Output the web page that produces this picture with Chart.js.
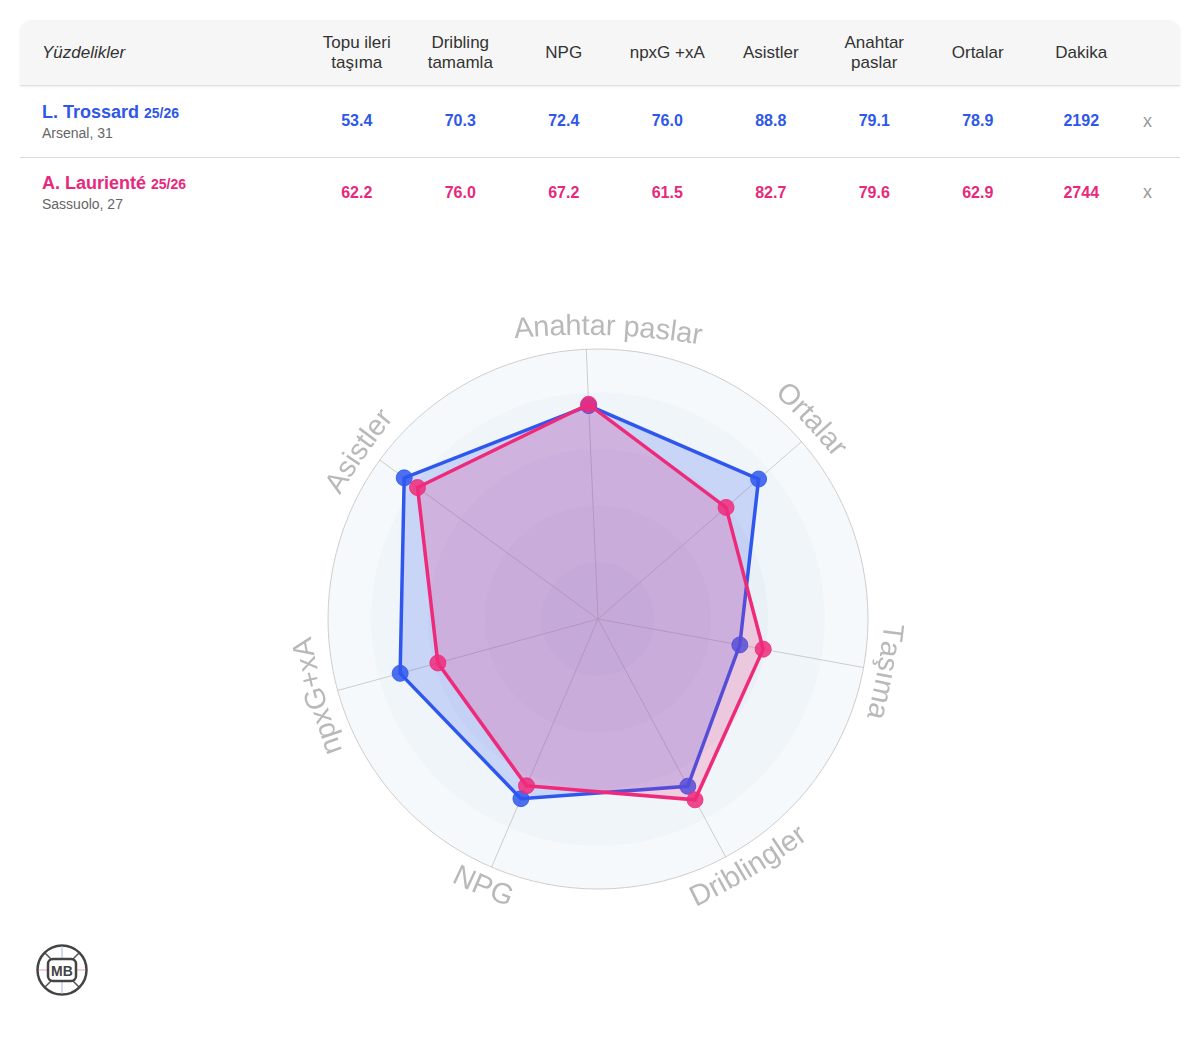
<!DOCTYPE html>
<html>
<head>
<meta charset="utf-8">
<script src="https://cdn.jsdelivr.net/npm/chart.js@4/dist/chart.umd.min.js"></script>
<style>
  body { margin: 0; background: #fff; font-family: "Liberation Sans", Arial, sans-serif; }
  #wrap { position: relative; width: 1200px; height: 1050px; }
  #hdrbg { position: absolute; left: 20px; top: 20px; width: 1160px; height: 65px; background: #f6f6f6; border-radius: 12px 12px 0 0; border-bottom: 1px solid #e0e0e0; box-shadow: 0 1px 3px rgba(0,0,0,0.07); }
  table { position: absolute; left: 20px; top: 20px; width: 1160px; border-collapse: collapse; table-layout: fixed; }
  thead th { height: 66px; font-weight: normal; font-size: 17px; color: #333; line-height: 20px; padding: 0; }
  thead th:first-child { text-align: left; padding-left: 22px; font-style: italic; }
  tbody td { text-align: center; font-weight: bold; font-size: 16px; padding: 0; }
  tbody tr { height: 71px; }
  tbody tr:first-child td { border-bottom: 1px solid #dcdcdc; }
  td.name { text-align: left; padding-left: 22px; font-weight: normal; }
  td.name b { font-size: 18px; }
  td.name b small { font-size: 14px; }
  td.name div { font-size: 14px; color: #666; margin-top: 2px; }
  td.x { font-weight: normal; color: #999; font-size: 18px; text-align: left; padding-left: 10px; }
  #chartBox { position: absolute; left: 248px; top: 269px; width: 700px; height: 700px; }
  #logo { position: absolute; left: 35px; top: 943px; }
</style>
</head>
<body>
<div id="wrap">
  <div id="hdrbg"></div>
  <table id="tbl">
    <colgroup>
      <col style="width:285px">
      <col span="8" style="width:103.5px">
      <col style="width:47px">
    </colgroup>
    <thead><tr id="head"></tr></thead>
    <tbody id="body"></tbody>
  </table>
  <div id="chartBox"><canvas id="radar" width="700" height="700"></canvas></div>
  <svg id="logo" width="54" height="54" viewBox="0 0 54 54">
    <circle cx="27" cy="27" r="24.5" fill="#fff" stroke="#444" stroke-width="2.5"/>
    <line x1="4" y1="27" x2="14" y2="27" stroke="#e9a0b8" stroke-width="1"/>
    <line x1="40" y1="27" x2="50" y2="27" stroke="#e9a0b8" stroke-width="1"/>
    <line x1="27" y1="3" x2="27" y2="16" stroke="#9fb4e6" stroke-width="1"/>
    <line x1="27" y1="38" x2="27" y2="51" stroke="#9fb4e6" stroke-width="1"/>
    <path d="M10 10 L16 16 M44 10 L38 16 M10 44 L16 38 M44 44 L38 38" stroke="#555" stroke-width="1.5"/>
    <rect x="13" y="16" width="28" height="22" rx="5" fill="#fff" stroke="#444" stroke-width="2.5"/>
    <text x="27" y="33" text-anchor="middle" font-family="Liberation Sans, Arial" font-weight="bold" font-size="14" fill="#444">MB</text>
  </svg>
</div>
<script>
// radar axes, clockwise from top
const labels = ['Anahtar paslar', 'Ortalar', 'Taşıma', 'Driblingler', 'NPG', 'npxG+xA', 'Asistler'];
const trossard = [79.1, 78.9, 53.4, 70.3, 72.4, 76.0, 88.8];
const lauriente = [79.6, 62.9, 62.2, 76.0, 67.2, 61.5, 82.7];

// table
const tableHeaders = ['Topu ileri<br>taşıma', 'Dribling<br>tamamla', 'NPG', 'npxG +xA', 'Asistler', 'Anahtar<br>paslar', 'Ortalar', 'Dakika'];
const trossardTable = ['53.4', '70.3', '72.4', '76.0', '88.8', '79.1', '78.9', '2192'];
const laurienteTable = ['62.2', '76.0', '67.2', '61.5', '82.7', '79.6', '62.9', '2744'];
const players = [
  { name: 'L. Trossard', season: '25/26', sub: 'Arsenal, 31', color: '#2f57e8', row: trossardTable },
  { name: 'A. Laurienté', season: '25/26', sub: 'Sassuolo, 27', color: '#e8287b', row: laurienteTable },
];

const blue = '#2f57ee';
const pink = '#ee2a7b';
// small angular nudges (degrees) for the curved axis names
const labelShift = [4.5, -2, 0, -3, 0, 0, -1];

const head = document.getElementById('head');
head.innerHTML = '<th>Yüzdelikler</th>' + tableHeaders.map(h => `<th>${h}</th>`).join('') + '<th></th>';
document.getElementById('body').innerHTML = players.map(p =>
  `<tr><td class="name"><b style="color:${p.color}">${p.name} <small>${p.season}</small></b><div>${p.sub}</div></td>` +
  p.row.map(v => `<td style="color:${p.color}">${v}</td>`).join('') +
  '<td class="x">x</td></tr>'
).join('');

// light concentric bands behind the grid
const bands = {
  id: 'bands',
  beforeDraw(chart) {
    const s = chart.scales.r, c = chart.ctx;
    const steps = [[1, '#f6f9fc'], [0.84, '#eff5f9'], [0.63, '#eaf1f6'], [0.42, '#e5edf3'], [0.21, '#dfe8ef']];
    c.save();
    steps.forEach(([f, col]) => {
      c.beginPath();
      c.arc(s.xCenter, s.yCenter, s.drawingArea * f, 0, Math.PI * 2);
      c.fillStyle = col;
      c.fill();
    });
    c.restore();
  }
};

// axis names, gently bent around the outer circle
const arcLabels = {
  id: 'arcLabels',
  afterDraw(chart) {
    const s = chart.scales.r, c = chart.ctx;
    const R = s.drawingArea + 22;
    const Rc = R * 2.4; // flatter bend than the ring itself
    c.save();
    c.font = '29px "Liberation Sans", Arial, sans-serif';
    c.fillStyle = '#b9b9b9';
    c.textAlign = 'center';
    c.textBaseline = 'middle';
    chart.data.labels.forEach((txt, i) => {
      const th = s.getIndexAngle(i) + labelShift[i] * Math.PI / 180;
      const flip = Math.cos(th) < -0.5;
      const cx = s.xCenter + (R - Rc) * Math.sin(th);
      const cy = s.yCenter - (R - Rc) * Math.cos(th);
      const chars = [...txt];
      const widths = chars.map(ch => c.measureText(ch).width);
      const span = widths.reduce((a, b) => a + b, 0) / Rc;
      let cum = 0;
      chars.forEach((ch, k) => {
        const mid = (cum + widths[k] / 2) / Rc;
        cum += widths[k];
        const phi = flip ? th + span / 2 - mid : th - span / 2 + mid;
        const x = cx + Rc * Math.sin(phi);
        const y = cy - Rc * Math.cos(phi);
        c.save();
        c.translate(x, y);
        c.rotate(flip ? phi + Math.PI : phi);
        c.fillText(ch, 0, 0);
        c.restore();
      });
    });
    c.restore();
  }
};

new Chart(document.getElementById('radar'), {
  type: 'radar',
  data: {
    labels,
    datasets: [
      {
        label: 'L. Trossard',
        data: trossard,
        order: 1,
        borderColor: blue,
        backgroundColor: 'rgba(47,87,238,0.2)',
        borderWidth: 3.5,
        pointRadius: 8,
        pointBackgroundColor: 'rgba(47,87,238,0.85)',
        pointBorderColor: 'rgba(47,87,238,0.85)',
        pointBorderWidth: 1,
      },
      {
        label: 'A. Laurienté',
        data: lauriente,
        order: 0,
        borderColor: pink,
        backgroundColor: 'rgba(238,42,123,0.2)',
        borderWidth: 3.5,
        pointRadius: 8,
        pointBackgroundColor: 'rgba(238,42,123,0.85)',
        pointBorderColor: 'rgba(238,42,123,0.85)',
        pointBorderWidth: 1,
      }
    ]
  },
  options: {
    responsive: false,
    animation: false,
    layout: { padding: 80 },
    plugins: { legend: { display: false }, tooltip: { enabled: false } },
    scales: {
      r: {
        min: 0,
        max: 100,
        startAngle: -2.5,
        ticks: { display: false, stepSize: 100 },
        grid: { circular: true, color: '#cdcdcd', lineWidth: 1 },
        angleLines: { color: 'rgba(190,190,190,0.75)', lineWidth: 1 },
        pointLabels: { display: false },
      }
    }
  },
  plugins: [bands, arcLabels]
});
</script>
</body>
</html>
